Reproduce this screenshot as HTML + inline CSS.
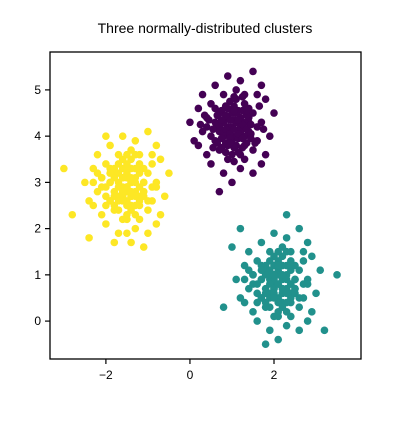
<!DOCTYPE html>
<html><head><meta charset="utf-8"><style>
body{margin:0;background:#fff}
svg text{font-family:"Liberation Sans","DejaVu Sans",sans-serif}
</style></head><body>
<svg id="chart" width="401" height="417" xmlns="http://www.w3.org/2000/svg">
<rect width="401" height="417" fill="#fff"/>
<text x="205" y="33" font-size="14" text-anchor="middle">Three normally-distributed clusters</text>
<g id="points"></g>
<rect x="50" y="52" width="311" height="307" fill="none" stroke="#000" stroke-width="1.3"/>
<g id="axes"></g>
</svg>
<script>
const purpleX=[1.0,0.8,1.2,0.6,1.4,0.9,1.1,0.7,1.3,0.5,1.5,0.4,1.6,0.9,1.2,0.8,1.1,0.3,1.7,1.0,0.7,1.3,1.0,0.6,1.4,0.9,1.1,0.5,1.5,0.2,1.8,0.8,1.3,1.6,0.4,1.9,0.0,0.1,1.2,0.9,0.6,1.7,0.7,1.0,1.5,2.0,0.3,1.2,0.8,1.1,1.4,0.6,1.0,1.3,0.5,1.6,0.9,1.1,0.7,1.2,1.8,0.2,1.5,1.3,0.4,1.7,1.0,1.2,0.8,1.4,1.1,0.9,1.3,0.7,
0.75,0.85,0.95,1.05,1.15,1.25,1.35,0.65,0.75,0.85,0.95,1.05,1.15,1.25,1.35,1.45,0.55,0.65,0.85,0.95,1.05,1.15,1.25,1.35,0.75,0.85,0.95,1.05,1.15,1.25,1.45,0.65,0.75,0.95,1.05,1.15,1.35,0.85,0.95,1.05,1.25,0.45,1.55,0.35,1.65,0.55,1.45,1.75,0.25,1.05];
const purpleY=[4.2,4.0,4.4,4.3,4.1,4.6,3.8,3.7,4.7,4.0,4.5,4.4,3.9,3.5,3.3,4.9,5.0,4.1,4.3,4.5,4.5,4.0,3.9,3.9,4.6,4.2,4.3,4.7,3.7,4.6,4.8,3.2,3.5,4.9,3.6,4.0,4.3,3.9,5.2,5.3,5.1,5.1,2.8,3.0,3.2,4.5,4.9,4.1,4.3,4.8,4.3,4.6,3.6,3.8,3.4,4.2,4.4,4.0,4.1,3.6,3.6,3.8,5.4,4.9,4.2,3.4,4.0,4.2,4.1,4.4,4.5,3.8,4.3,4.2,
3.95,4.15,4.05,4.35,3.95,4.25,4.45,4.25,4.55,3.85,4.35,4.65,4.05,3.75,4.15,4.05,4.15,3.85,4.45,4.75,3.75,4.55,4.85,3.85,4.35,4.65,4.05,4.15,4.35,4.55,4.25,4.45,3.75,3.95,4.55,3.65,4.55,3.65,3.85,4.85,3.95,4.35,3.85,4.45,4.65,3.75,3.95,4.15,4.25,3.45];
const tealX=[2.1,1.9,2.3,1.7,2.5,2.0,2.2,1.8,2.4,1.6,2.6,1.5,2.7,2.0,2.3,1.9,2.2,1.4,2.8,2.1,1.8,2.4,2.1,1.7,2.5,2.0,2.2,1.6,2.6,1.3,2.9,1.9,2.4,2.7,1.5,3.0,1.1,1.2,2.3,2.0,1.7,2.8,1.8,2.1,2.6,3.1,1.4,2.3,1.9,2.2,2.5,1.7,2.1,2.4,1.6,2.7,2.0,2.2,1.8,2.3,2.9,1.3,2.6,2.4,1.5,2.8,3.5,3.2,1.0,0.8,1.2,2.3,2.0,2.2,1.9,2.4,
1.8,1.9,2.0,2.1,2.2,2.3,2.4,1.7,1.8,1.9,2.0,2.1,2.2,2.3,2.4,2.5,1.6,1.7,1.9,2.0,2.1,2.2,2.3,2.4,1.8,1.9,2.0,2.1,2.2,2.3,2.5,1.7,1.8,2.0,2.1,2.2,2.4,1.9,2.0,2.1,2.3,1.5,2.6,1.4,2.7,1.6,2.5,2.8,1.3,2.1];
const tealY=[0.8,0.6,1.0,0.9,0.7,1.2,0.4,0.3,1.3,0.6,1.1,1.0,0.5,0.1,-0.1,1.5,1.6,0.7,0.9,1.1,1.1,0.6,0.5,0.5,1.2,0.8,0.9,1.3,0.3,1.2,1.4,-0.2,0.1,1.5,0.2,0.6,0.9,0.5,1.8,1.9,1.7,1.7,-0.5,-0.4,-0.2,1.1,1.5,0.7,0.9,1.4,0.9,1.2,0.2,0.4,0.0,0.8,1.0,0.6,0.7,0.2,0.2,0.4,2.0,1.5,0.8,0.0,1.0,-0.2,1.6,0.3,2.0,2.3,0.9,0.7,1.0,0.8,
0.6,0.8,0.7,1.0,0.6,0.9,1.1,0.9,1.2,0.5,1.0,1.3,0.7,0.4,0.8,0.7,0.8,0.5,1.1,1.4,0.4,1.2,1.5,0.5,1.0,1.3,0.7,0.8,1.0,1.2,0.9,1.1,0.4,0.6,1.2,0.3,1.2,0.3,0.5,1.5,0.6,1.0,0.5,1.1,1.3,0.4,0.6,0.8,0.9,0.1];
const yellowX=[-1.5,-1.7,-1.3,-1.9,-1.1,-1.6,-1.4,-1.8,-1.2,-2.0,-1.0,-2.1,-0.9,-1.6,-1.3,-1.7,-1.4,-2.2,-0.8,-1.5,-1.8,-1.2,-1.5,-1.9,-1.1,-1.6,-1.4,-2.0,-1.0,-2.3,-0.7,-1.7,-1.2,-0.9,-2.1,-0.6,-2.5,-2.4,-1.3,-1.6,-1.9,-0.8,-1.8,-1.5,-1.0,-0.5,-2.2,-1.3,-1.7,-1.4,-1.1,-1.9,-1.5,-1.2,-2.0,-0.9,-1.6,-1.4,-1.8,-1.3,-0.7,-2.3,-1.0,-1.2,-2.1,-0.8,-3.0,-2.8,-2.4,-1.4,-1.1,-2.0,-1.5,-1.6,-1.4,-1.5,
-1.8,-1.7,-1.6,-1.5,-1.4,-1.3,-1.2,-1.9,-1.8,-1.7,-1.6,-1.5,-1.4,-1.3,-1.2,-1.1,-2.0,-1.9,-1.7,-1.6,-1.5,-1.4,-1.3,-1.2,-1.8,-1.7,-1.6,-1.5,-1.4,-1.3,-1.1,-1.9,-1.8,-1.6,-1.5,-1.4,-1.2,-1.7,-1.6,-1.5,-1.3,-2.1,-1.0,-2.2,-0.9,-2.0,-1.1,-0.8,-2.3,-1.5];
const yellowY=[2.9,2.7,3.1,3.0,2.8,3.3,2.5,2.4,3.4,2.7,3.2,3.1,2.6,2.2,2.0,3.6,3.7,2.8,3.0,3.2,3.2,2.7,2.6,2.6,3.3,2.9,3.0,3.4,2.4,3.3,3.5,1.9,2.2,3.6,2.3,2.7,3.0,2.6,3.9,4.0,3.8,3.8,1.7,1.9,1.9,3.2,3.6,2.8,3.0,3.5,3.0,3.3,2.3,2.5,2.1,2.9,3.1,2.7,2.8,2.3,2.3,2.5,4.1,3.6,2.9,2.1,3.3,2.3,1.8,1.7,1.6,4.0,2.8,2.7,3.0,2.9,
2.7,2.9,2.8,3.1,2.7,3.0,3.2,3.0,3.3,2.6,3.1,3.4,2.8,2.5,2.9,2.8,2.9,2.6,3.2,3.5,2.5,3.3,3.6,2.6,3.1,3.4,2.8,2.9,3.1,3.3,3.0,3.2,2.5,2.7,3.3,2.4,3.3,2.4,2.6,3.6,2.7,3.1,2.6,3.2,3.4,2.5,2.7,2.9,3.0,2.2];
const xTicks=[-2,0,2];
const yTicks=[0,1,2,3,4,5];
const xMin=-3.33,xMax=4.07,yMin=-0.82,yMax=5.82;
const L=50,R=361,T=52,B=359;
const sx=v=>L+(v-xMin)/(xMax-xMin)*(R-L);
const sy=v=>B-(v-yMin)/(yMax-yMin)*(B-T);
const NS="http://www.w3.org/2000/svg";
const pg=document.getElementById('points');
function draw(xs,ys,color,name){
  for(let i=0;i<xs.length;i++){
    const c=document.createElementNS(NS,'circle');
    c.setAttribute('cx',sx(xs[i]));c.setAttribute('cy',sy(ys[i]));
    c.setAttribute('r',3.8);c.setAttribute('fill',color);
    
    
    pg.appendChild(c);
  }
}
draw(purpleX,purpleY,'#440154','point-cluster-purple');
draw(tealX,tealY,'#21918c','point-cluster-teal');
draw(yellowX,yellowY,'#fde725','point-cluster-yellow');
const ag=document.getElementById('axes');
xTicks.forEach(t=>{
  const x=sx(t);
  const l=document.createElementNS(NS,'line');
  l.setAttribute('x1',x);l.setAttribute('x2',x);l.setAttribute('y1',B);l.setAttribute('y2',B+5);
  l.setAttribute('stroke','#000');l.setAttribute('stroke-width','1.2');
  
  
  ag.appendChild(l);
  const s=document.createElementNS(NS,'text');
  s.setAttribute('x',x);s.setAttribute('y',B+20);s.setAttribute('font-size','12');s.setAttribute('text-anchor','middle');
  s.textContent=t<0?'\u2212'+(-t):String(t);
  
  
  ag.appendChild(s);
});
yTicks.forEach(t=>{
  const y=sy(t);
  const l=document.createElementNS(NS,'line');
  l.setAttribute('x1',L-5);l.setAttribute('x2',L);l.setAttribute('y1',y);l.setAttribute('y2',y);
  l.setAttribute('stroke','#000');l.setAttribute('stroke-width','1.2');
  
  
  ag.appendChild(l);
  const s=document.createElementNS(NS,'text');
  s.setAttribute('x',L-9);s.setAttribute('y',y+4);s.setAttribute('font-size','12');s.setAttribute('text-anchor','end');
  s.textContent=String(t);
  
  
  ag.appendChild(s);
});
</script>
</body></html>
